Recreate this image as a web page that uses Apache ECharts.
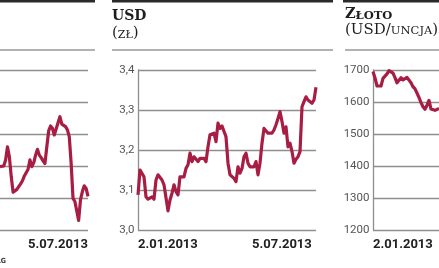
<!DOCTYPE html>
<html><head><meta charset="utf-8">
<script src="https://cdn.jsdelivr.net/npm/echarts@6/dist/echarts.min.js"></script>
<style>html,body{margin:0;padding:0;background:#fff}#c{width:439px;height:268px}</style>
</head><body><div id="c"></div>
<script>
// USD/PLN (zł), from 2.01.2013
const usdValues = [3.088,3.150,3.150,3.133,3.083,3.077,3.077,3.083,3.077,3.125,
  3.138,3.135,3.125,3.113,3.108,3.048,3.075,3.092,3.113,3.096,
  3.088,3.133,3.129,3.133,3.154,3.163,3.192,3.171,3.183,3.188,
  3.171,3.179,3.183,3.179,3.171,3.208,3.238,3.233,3.242,3.221,
  3.267,3.254,3.260,3.263,3.233,3.167,3.138,3.133,3.129,3.121,
  3.158,3.142,3.154,3.183,3.192,3.167,3.158,3.154,3.158,3.171,
  3.138,3.167,3.217,3.254,3.254,3.242,3.246,3.242,3.250,3.263,
  3.279,3.296,3.271,3.242,3.258,3.208,3.217,3.196,3.167,3.177,
  3.183,3.196,3.308,3.321,3.333,3.325,3.325,3.317,3.325,3.357];
// Gold (USD/uncja), visible part from 2.01.2013
const goldValues = [1695,1675,1650,1655,1650,1674,1668,1688,1698,1698,
  1690,1676,1660,1660,1676,1669,1674,1677,1671,1660,
  1648,1641,1628,1614,1598,1585,1577,1590,1605,1578,
  1575,1574,1575,1580];
// Left (cropped) panel, in grid-line units (0 = bottom line, 5 = top line)
const leftStart = 42;
const leftValues = [1.98,1.93,2.00,2.19,2.60,2.29,1.67,1.18,1.20,1.27,
  1.32,1.44,1.54,1.69,1.65,1.90,2.19,1.98,2.10,2.34,
  2.52,2.34,2.26,2.16,2.08,2.60,3.10,3.25,3.18,2.97,
  3.02,3.35,3.54,3.31,3.28,3.23,3.13,2.92,2.08,0.99,
  0.89,0.89,0.30,0.95,1.20,1.38,1.30,1.05];
const dateLabels = ['2.01.2013','5.07.2013'];
const dateLabelIdx = [0,57];
const usdCategories = usdValues.map((_, i) => String(i));
const goldCategories = goldValues.map((_, i) => String(i));
const leftCategories = leftValues.map((_, i) => String(i + leftStart));

const RED = '#a81d44';
const GRID = '#8e8e8e';
const numFont = "Roboto,'Liberation Sans',sans-serif";
const serif = "'DejaVu Serif',serif";

function xAxisFor(gridIndex, cats) {
  return {
    type: 'category', gridIndex, data: cats, boundaryGap: false,
    axisLine: {show: false}, axisTick: {show: false}, splitLine: {show: false},
    axisLabel: {
      interval: (i, v) => dateLabelIdx.includes(+v),
      formatter: v => { const k = dateLabelIdx.indexOf(+v); return k >= 0 ? dateLabels[k] : ''; },
      align: 'left', margin: 8, color: '#222', fontSize: 13, fontWeight: 'bold', fontFamily: numFont
    }
  };
}
function yAxisFor(gridIndex, min, max, interval, showLabel, fmt) {
  return {
    type: 'value', gridIndex, min, max, interval,
    axisLine: {show: showLabel, lineStyle: {color: GRID, width: 1.3}},
    axisTick: {show: false},
    splitLine: {show: true, lineStyle: {color: GRID, width: 1.3}},
    axisLabel: {show: showLabel, margin: 3.5, color: '#555', fontSize: 11.5, fontFamily: numFont, formatter: fmt}
  };
}
function lineSeries(i, data) {
  return {type: 'line', xAxisIndex: i, yAxisIndex: i, data, symbol: 'none', smooth: false,
    lineStyle: {color: RED, width: 3.2, join: 'round'}, animation: false};
}
const chart = echarts.init(document.getElementById('c'), null, {renderer: 'canvas'});
const seg = (x1, y1, x2, y2, color, w) => ({type: 'line', silent: true,
  shape: {x1, y1, x2, y2}, style: {stroke: color, lineWidth: w}});
const txt = (x, y, text, rich, font) => ({type: 'text', silent: true,
  style: {x, y, text, rich, font, fill: '#1e1e1e', textAlign: 'left', textVerticalAlign: 'middle'}});

chart.setOption({
  animation: false,
  grid: [
    {left: 0, top: 70, width: 88, height: 160},
    {left: 138, top: 70, width: 178, height: 160},
    {left: 373, top: 70, width: 66, height: 160}
  ],
  xAxis: [xAxisFor(0, leftCategories), xAxisFor(1, usdCategories), xAxisFor(2, goldCategories)],
  yAxis: [
    yAxisFor(0, 0, 5, 1, false),
    yAxisFor(1, 3.0, 3.4, 0.1, true, v => v.toFixed(1).replace('.', ',')),
    yAxisFor(2, 1200, 1700, 100, true, v => String(v))
  ],
  series: [lineSeries(0, leftValues), lineSeries(1, usdValues), lineSeries(2, goldValues)],
  graphic: [
    seg(0, 1.2, 95, 1.2, '#2a2a2a', 2.5),
    seg(112, 1.2, 333, 1.2, '#2a2a2a', 2.5),
    seg(343, 1.2, 439, 1.2, '#2a2a2a', 2.5),
    seg(0, 50, 95, 50, '#999', 1.5),
    seg(112, 50, 333, 50, '#999', 1.5),
    seg(345, 50, 439, 50, '#999', 1.5),
    txt(112, 16.5, '{b|USD}', {b: {fontFamily: serif, fontWeight: 'bold', fontSize: 14, fill: '#1e1e1e'}}),
    txt(112, 33, '{p|(}{s|ZŁ}{p|)}', {
      p: {fontFamily: serif, fontSize: 15, verticalAlign: 'bottom', fill: '#1e1e1e'},
      s: {fontFamily: serif, fontSize: 11, verticalAlign: 'bottom', fill: '#1e1e1e'}}),
    txt(345, 14.5, '{b|Z}{s|ŁOTO}', {
      b: {fontFamily: serif, fontWeight: 'bold', fontSize: 14.5, verticalAlign: 'bottom', fill: '#1e1e1e'},
      s: {fontFamily: serif, fontWeight: 'bold', fontSize: 11.5, verticalAlign: 'bottom', fill: '#1e1e1e'}}),
    txt(345, 30, '{p|(USD/}{s|UNCJA}{p|)}', {
      p: {fontFamily: serif, fontSize: 15, verticalAlign: 'bottom', fill: '#1e1e1e'},
      s: {fontFamily: serif, fontSize: 11.5, verticalAlign: 'bottom', fill: '#1e1e1e'}}),
    {type: 'text', silent: true, style: {x: 6, y: 261, text: 'ŹRÓDŁO: BLOOMBERG',
      font: "bold 7px 'DejaVu Sans Condensed','DejaVu Sans',sans-serif", fill: '#333',
      textAlign: 'right', textVerticalAlign: 'middle'}}
  ]
});
</script></body></html>
